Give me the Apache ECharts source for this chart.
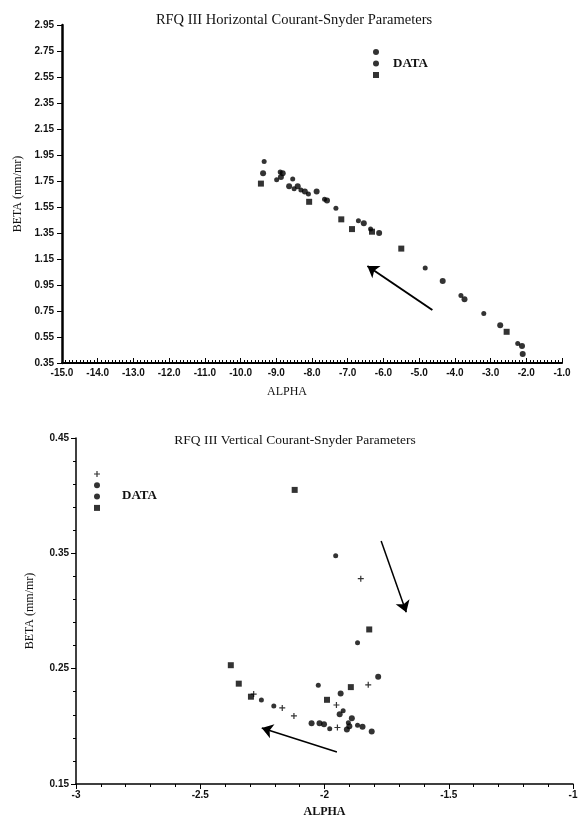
<!DOCTYPE html>
<html>
<head>
<meta charset="utf-8">
<title>RFQ III Courant-Snyder Parameters</title>
<script src="https://cdn.jsdelivr.net/npm/echarts@6/dist/echarts.min.js"></script>
<style>
    html, body { margin: 0; padding: 0; background: #fff; }
    #main { width: 583px; height: 822px; }
</style>
</head>
<body>
<div id="main"></div>
<script>
    // horizontal plane: [alpha, beta]
    var hDots = [[-9.34, 1.90], [-8.89, 1.82], [-8.99, 1.76], [-8.54, 1.765], [-8.50, 1.69], [-8.31, 1.68], [-8.10, 1.65],
                 [-7.65, 1.61], [-7.33, 1.54], [-6.70, 1.445], [-6.36, 1.38], [-4.83, 1.08], [-3.83, 0.87], [-3.19, 0.73], [-2.24, 0.50]];
    var hCircles = [[-9.37, 1.81], [-8.82, 1.81], [-8.87, 1.78], [-8.64, 1.71], [-8.40, 1.71], [-8.20, 1.67], [-7.87, 1.67],
                    [-7.58, 1.60], [-6.55, 1.425], [-6.12, 1.35], [-4.34, 0.98], [-3.73, 0.84], [-2.73, 0.64], [-2.12, 0.48], [-2.10, 0.42]];
    var hSquares = [[-9.43, 1.73], [-8.08, 1.59], [-7.18, 1.455], [-6.88, 1.38], [-6.32, 1.36], [-5.50, 1.23], [-2.55, 0.59]];
    var hArrow = [[-4.63, 0.758], [-6.45, 1.096]];
    var hBetaTicks = [0.35, 0.55, 0.75, 0.95, 1.15, 1.35, 1.55, 1.75, 1.95, 2.15, 2.35, 2.55, 2.75, 2.95];

    // vertical plane: [alpha, beta]
    var vPlus = [[-1.854, 0.328], [-1.824, 0.236], [-1.952, 0.2185], [-1.948, 0.199], [-2.285, 0.228], [-2.17, 0.216], [-2.123, 0.209]];
    var vDots = [[-1.955, 0.348], [-1.867, 0.2725], [-2.025, 0.2356], [-1.925, 0.2136], [-1.904, 0.203], [-1.979, 0.198],
                 [-1.867, 0.201], [-2.204, 0.2176], [-2.254, 0.2228]];
    var vCircles = [[-1.784, 0.243], [-1.935, 0.2285], [-1.939, 0.2104], [-1.89, 0.207], [-1.90, 0.200], [-2.052, 0.2026],
                    [-2.02, 0.2026], [-2.002, 0.2017], [-1.91, 0.1973], [-1.847, 0.1997], [-1.81, 0.1955]];
    var vSquares = [[-2.12, 0.405], [-1.82, 0.284], [-1.894, 0.234], [-1.99, 0.223], [-2.377, 0.253], [-2.345, 0.237], [-2.296, 0.2257]];
    var vArrowDown = [[-1.772, 0.3607], [-1.671, 0.299]];
    var vArrowLeft = [[-1.95, 0.1777], [-2.2525, 0.1986]];
    var vBetaTicks = [0.15, 0.25, 0.35, 0.45];
    var vBetaMinor = [0.17, 0.19, 0.21, 0.23, 0.27, 0.29, 0.31, 0.33, 0.37, 0.39, 0.41, 0.43];

    var plusPath = 'path://M4,0h2v4h4v2h-4v4h-2v-4h-4v-2h4z';
    var lblFont = { color: '#111', fontFamily: 'Liberation Sans', fontWeight: 'bold', fontSize: 10 };
    var nameFont = { color: '#111', fontFamily: 'Liberation Serif', fontSize: 12 };

    var myChart = echarts.init(document.getElementById('main'), null, { renderer: 'canvas' });

    function pts(name, data, symbol, size, xi) {
        return {
            name: name, type: 'scatter', xAxisIndex: xi, yAxisIndex: xi,
            data: data, symbol: symbol, symbolSize: size,
            itemStyle: { color: '#000' }, silent: true
        };
    }
    function arrow(data, xi, w) {
        return {
            type: 'lines', coordinateSystem: 'cartesian2d', xAxisIndex: xi, yAxisIndex: xi,
            silent: true, symbol: ['none', 'arrow'], symbolSize: [6, 11],
            lineStyle: { color: '#000', width: w, opacity: 1 },
            data: [{ coords: data }]
        };
    }

    var option = {
        backgroundColor: '#fff',
        animation: false,
        title: [
            { text: 'RFQ III Horizontal Courant-Snyder Parameters', left: 289, top: 8, textAlign: 'center',
              textStyle: { fontFamily: 'Liberation Serif', fontWeight: 'normal', fontSize: 14.5, color: '#111' } },
            { text: 'RFQ III Vertical Courant-Snyder Parameters', left: 290, top: 428, textAlign: 'center',
              textStyle: { fontFamily: 'Liberation Serif', fontWeight: 'normal', fontSize: 13.5, color: '#111' } },
            { text: 'DATA', left: 117, top: 484,
              textStyle: { fontFamily: 'Liberation Serif', fontWeight: 'bold', fontSize: 13, color: '#111' } }
        ],
        legend: [
            { data: ['hDot', 'hCircle', 'hSquare'], orient: 'vertical', left: 368, top: 44,
              itemWidth: 6, itemHeight: 6, itemGap: 2, selectedMode: false,
              formatter: function (n) { return n === 'hCircle' ? 'DATA' : ''; },
              textStyle: { fontFamily: 'Liberation Serif', fontWeight: 'bold', fontSize: 13, color: '#111', lineHeight: 6, padding: [0, 0, 0, 9] } },
            { data: ['vPlus', 'vDot', 'vCircle', 'vSquare'], orient: 'vertical', left: 89, top: 466,
              itemWidth: 6, itemHeight: 6, itemGap: 5.3, selectedMode: false,
              formatter: function () { return ''; },
              textStyle: { fontSize: 6, lineHeight: 6 } }
        ],
        grid: [
            { left: 62, right: 21, top: 25, height: 338 },
            { left: 76, right: 10, top: 438, height: 346 }
        ],
        xAxis: [
            { gridIndex: 0, type: 'value', min: -15, max: -1, interval: 1,
              name: 'ALPHA', nameLocation: 'middle', nameGap: 23, nameTextStyle: Object.assign({ padding: [0, 50, 0, 0] }, nameFont),
              axisLine: { lineStyle: { color: '#000', width: 2 } },
              axisTick: { inside: true, length: 5, lineStyle: { color: '#000' } },
              minorTick: { show: true, splitNumber: 10, length: 3, lineStyle: { color: '#000' } },
              axisLabel: Object.assign({ margin: 5, formatter: function (v) { return v.toFixed(1); } }, lblFont),
              splitLine: { show: false } },
            { gridIndex: 1, type: 'value', min: -3, max: -1, interval: 0.5,
              name: 'ALPHA', nameLocation: 'middle', nameGap: 22, nameTextStyle: Object.assign({}, nameFont, { fontWeight: 'bold' }),
              axisLine: { lineStyle: { color: '#000', width: 1.5 } },
              axisTick: { length: 5, lineStyle: { color: '#000' } },
              minorTick: { show: true, splitNumber: 5, length: 3, lineStyle: { color: '#000' } },
              axisLabel: Object.assign({ margin: 6 }, lblFont),
              splitLine: { show: false } }
        ],
        yAxis: [
            { gridIndex: 0, type: 'value', min: 0.35, max: 2.95,
              name: 'BETA (mm/mr)', nameLocation: 'middle', nameGap: 38, nameTextStyle: nameFont,
              axisLine: { lineStyle: { color: '#000', width: 2.5 } },
              axisTick: { length: 5, customValues: hBetaTicks, lineStyle: { color: '#000' } },
              axisLabel: Object.assign({ margin: 8, customValues: hBetaTicks, formatter: function (v) { return v.toFixed(2); } }, lblFont),
              splitLine: { show: false } },
            { gridIndex: 1, type: 'value', min: 0.15, max: 0.45,
              name: 'BETA (mm/mr)', nameLocation: 'middle', nameGap: 40, nameTextStyle: nameFont,
              axisLine: { lineStyle: { color: '#000', width: 1.5 } },
              axisTick: { length: 5, customValues: vBetaTicks, lineStyle: { color: '#000' } },
              axisLabel: Object.assign({ margin: 7, customValues: vBetaTicks, formatter: function (v) { return v.toFixed(2); } }, lblFont),
              splitLine: { show: false } },
            // minor ticks for the vertical-plane beta axis
            { gridIndex: 1, type: 'value', min: 0.15, max: 0.45, position: 'left', offset: 0,
              axisLine: { show: false },
              axisTick: { length: 3, customValues: vBetaMinor, lineStyle: { color: '#000' } },
              axisLabel: { show: false, customValues: vBetaMinor },
              splitLine: { show: false } }
        ],
        series: [
            pts('hDot', hDots, 'circle', 5, 0),
            pts('hCircle', hCircles, 'circle', 6, 0),
            pts('hSquare', hSquares, 'rect', 6, 0),
            arrow(hArrow, 0, 2),
            pts('vPlus', vPlus, plusPath, 6, 1),
            pts('vDot', vDots, 'circle', 5, 1),
            pts('vCircle', vCircles, 'circle', 6, 1),
            pts('vSquare', vSquares, 'rect', 6, 1),
            arrow(vArrowDown, 1, 1.5),
            arrow(vArrowLeft, 1, 1.5)
        ]
    };

    myChart.setOption(option);
</script>
</body>
</html>
